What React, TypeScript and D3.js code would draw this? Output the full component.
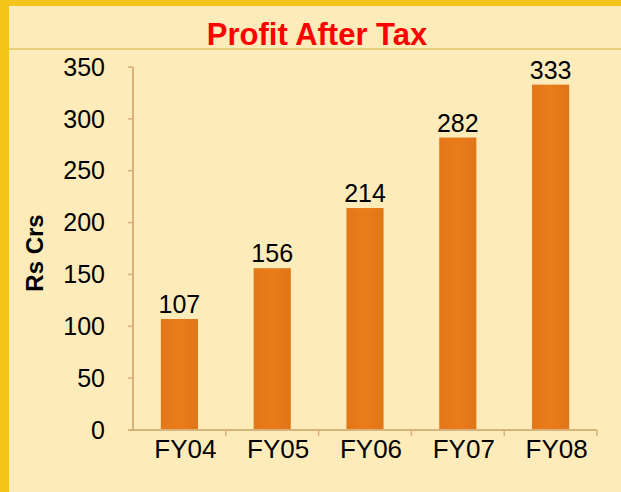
import React from 'react';
import * as d3 from 'd3';

const years = ['FY04', 'FY05', 'FY06', 'FY07', 'FY08'];
const profit = [107, 156, 214, 282, 333];
const yTicks = [0, 50, 100, 150, 200, 250, 300, 350];

const W = 621;
const H = 492;

export default function App() {
    const x = d3.scaleBand().domain(years).range([133, 597]).paddingInner(0.6).paddingOuter(0.3);
    const y = d3.scaleLinear().domain([0, 350]).range([430, 67]);
    const bounds = d3.scaleBand().domain(years).range([133, 597]);

    const font = 'Arial, "Liberation Sans", sans-serif';

    return (
        <svg width={W} height={H} style={{ position: 'absolute', left: 0, top: 0 }}>
            <defs>
                <linearGradient id="barGrad" x1="0" x2="1" y1="0" y2="0">
                    <stop offset="0" stopColor="#E27618" />
                    <stop offset="0.5" stopColor="#EA7C1A" />
                    <stop offset="1" stopColor="#E07518" />
                </linearGradient>
            </defs>
            <rect x={0} y={0} width={W} height={H} fill="#FDEBB9" />
            {/* yellow frame, top and left only */}
            <rect x={0} y={0} width={W} height={6} fill="#F3C519" />
            <rect x={0} y={0} width={9} height={H} fill="#F3C519" />
            <line x1={9} x2={W} y1={49} y2={49} stroke="#E6CB78" strokeWidth={2} />

            <text x={317} y={45} textAnchor="middle" fill="#FF0000" fontFamily={font} fontWeight="bold" fontSize={31}>
                Profit After Tax
            </text>

            <text transform={`translate(43, 253) rotate(-90)`} textAnchor="middle" fontFamily={font} fontWeight="bold" fontSize={24} fill="#000">
                Rs Crs
            </text>

            {/* y axis */}
            <line x1={133} x2={133} y1={y(350)} y2={y(0)} stroke="#D9B27A" strokeWidth={2} />
            {yTicks.map(t => (
                <g key={t}>
                    <line x1={128} x2={133} y1={y(t)} y2={y(t)} stroke="#D9B27A" strokeWidth={1.5} />
                    <text x={105} y={y(t)} dy="0.35em" textAnchor="end" fontFamily={font} fontSize={25} fill="#000">
                        {t}
                    </text>
                </g>
            ))}

            {/* bars */}
            {years.map((yr, i) => (
                <g key={yr}>
                    <rect x={x(yr)} y={y(profit[i])} width={x.bandwidth()} height={y(0) - y(profit[i])} fill="url(#barGrad)" />
                    <text x={x(yr)! + x.bandwidth() / 2} y={y(profit[i]) - 6} textAnchor="middle" fontFamily={font} fontSize={25} fill="#000">
                        {profit[i]}
                    </text>
                </g>
            ))}

            {/* x axis */}
            <line x1={128} x2={597} y1={y(0)} y2={y(0)} stroke="#D9B27A" strokeWidth={2} />
            {years.map(yr => (
                <line key={yr} x1={bounds(yr)! + bounds.bandwidth()} x2={bounds(yr)! + bounds.bandwidth()} y1={y(0)} y2={y(0) + 6} stroke="#D9B27A" strokeWidth={1.5} />
            ))}
            {years.map(yr => (
                <text key={yr} x={bounds(yr)! + bounds.bandwidth() / 2 + 6} y={458} textAnchor="middle" fontFamily={font} fontSize={26} fill="#000">
                    {yr}
                </text>
            ))}
        </svg>
    );
}
